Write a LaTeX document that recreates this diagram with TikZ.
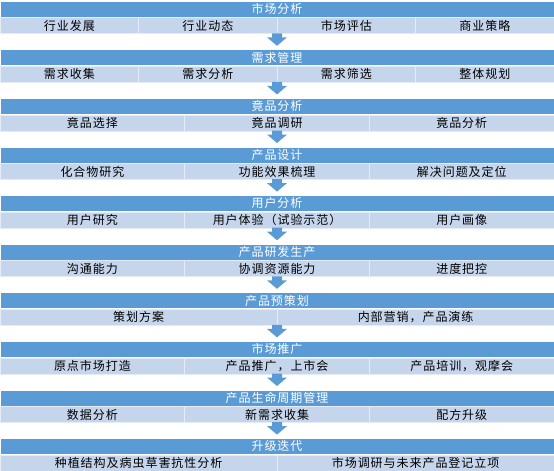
\documentclass[tikz,border=0pt]{standalone}
\usepackage{fontspec}
\newfontfamily\cjk[LetterSpace=8]{Noto Sans CJK SC}
\usetikzlibrary{calc,positioning}
\definecolor{hblue}{HTML}{5B9BD5}
\definecolor{rblue}{HTML}{C5D5EC}
\tikzset{
  head/.style={fill=hblue,draw=white,line width=0.6pt,minimum width=554pt,minimum height=16pt,inner sep=0pt,text=white,font=\cjk\fontsize{12}{12}\selectfont},
  cell/.style={fill=rblue,draw=white!55!rblue,line width=0.8pt,minimum height=16pt,inner sep=0pt,anchor=north west,font=\cjk\fontsize{12}{12}\selectfont}
}
\begin{document}
\begin{tikzpicture}[x=1pt,y=-1pt,line join=round]
\useasboundingbox (0,0) rectangle (554,471);
\foreach \i/\n/\t/\items in {0/4/市场分析/{行业发展,行业动态,市场评估,商业策略},
  1/4/需求管理/{需求收集,需求分析,需求筛选,整体规划},
  2/3/竟品分析/{竟品选择,竟品调研,竟品分析},
  3/3/产品设计/{化合物研究,功能效果梳理,解决问题及定位},
  4/3/用户分析/{用户研究,用户体验（试验示范）,用户画像},
  5/3/产品研发生产/{沟通能力,协调资源能力,进度把控},
  6/2/产品预策划/{策划方案,内部营销，产品演练},
  7/3/市场推广/{原点市场打造,产品推广，上市会,产品培训，观摩会},
  8/3/产品生命周期管理/{数据分析,新需求收集,配方升级},
  9/2/升级迭代/{种植结构及病虫草害抗性分析,市场调研与未来产品登记立项}}{
  \node[head] (h\i) at (277,{9+48.6*\i}) {\t};
  \foreach \s [count=\k] in \items {\node[cell,minimum width={554pt/\n}] (c\i-\k) at ($(h\i.south west)+({(\k-1)*554/\n},0)$) {\s};}
  \coordinate (r\i) at ($(h\i.south)+(0,16)$);
}
% arrows between the blocks
\foreach \i [evaluate=\i as \j using int(\i+1)] in {0,...,8}{
  \fill[hblue] ($(r\i)+(-5,0)$) -- ($(r\i)+(5,0)$) -- ($(r\i)+(5,4)$) -- ($(r\i)+(10,4)$) -- ($(h\j.north)+(0,-3.5)$) -- ($(r\i)+(-10,4)$) -- ($(r\i)+(-5,4)$) -- cycle;
}
\end{tikzpicture}
\end{document}
